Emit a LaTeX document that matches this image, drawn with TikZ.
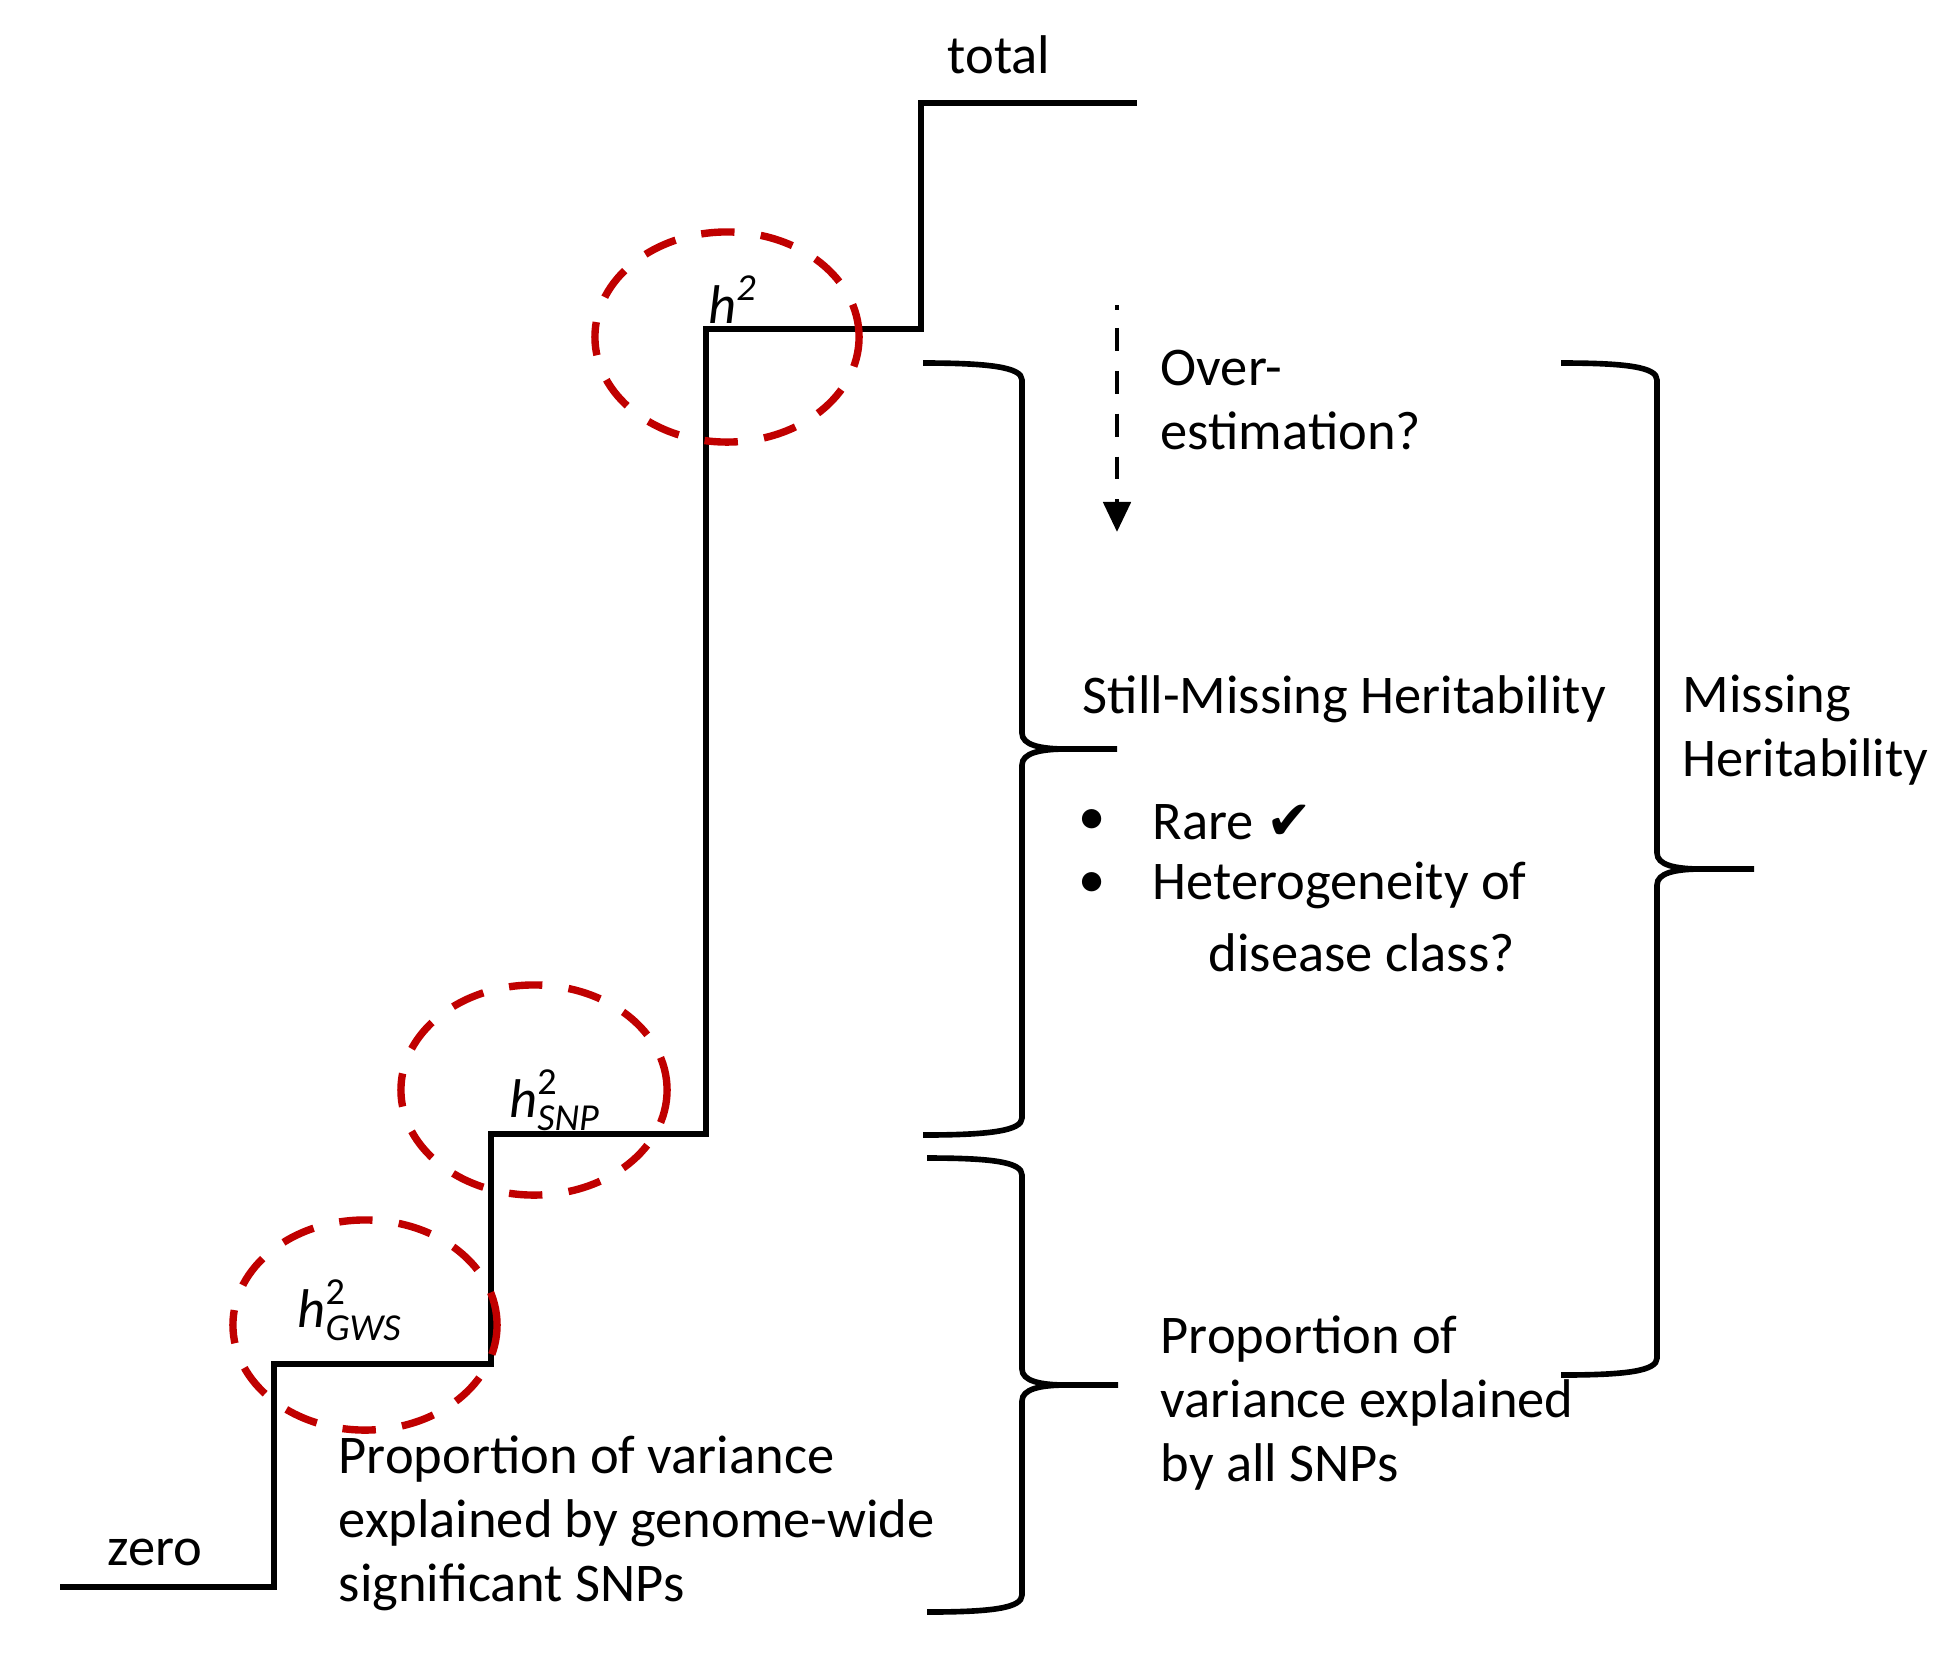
\documentclass[tikz,border=0pt]{standalone}
\usepackage{fontspec}
\usepackage{amsmath}
\setmainfont{Carlito}
\newfontfamily\symfont{DejaVu Sans}
\usetikzlibrary{arrows.meta}

\definecolor{ringred}{RGB}{192,0,0}

% #1 x of the two ends, #2 x of the stem, #3 x of the tip, #4 top y, #5 bottom y
\newcommand{\curlybrace}[5]{%
  \draw[brace] (#1,#4) .. controls ({#1+65},#4) and (#2,{#4+4}) .. (#2,{#4+17})
    -- (#2,{(#4+#5)/2-16}) .. controls (#2,{(#4+#5)/2-4}) and ({#2+18},{(#4+#5)/2}) .. ({#2+45},{(#4+#5)/2})
    -- (#3,{(#4+#5)/2});
  \draw[brace] ({#2+45},{(#4+#5)/2}) .. controls ({#2+18},{(#4+#5)/2}) and (#2,{(#4+#5)/2+4}) .. (#2,{(#4+#5)/2+16})
    -- (#2,{#5-17}) .. controls (#2,{#5-4}) and ({#1+65},#5) .. (#1,#5);
}

\begin{document}
\begin{tikzpicture}[x=0.01cm, y=-0.01cm,
  stair/.style={line width=1.8pt, line join=miter},
  brace/.style={line width=1.6pt},
  ring/.style={draw=ringred, line width=2.1pt, dash pattern=on 9.5pt off 7.5pt},
  overarrow/.style={line width=1.4pt, dash pattern=on 1.5pt off 5pt on 6.5pt off 5.7pt on 6.5pt off 5.7pt on 6.5pt off 5.7pt on 6.5pt off 5.7pt,
    -{Triangle[length=0.3cm, width=0.27cm]}},
  lbl/.style={inner sep=0pt, font=\fontsize{15.5}{18.2}\selectfont},
  blk/.style={lbl, align=left, anchor=west}]

\useasboundingbox (0,0) rectangle (1946,1666);

% staircase
\draw[stair] (60,1587) -| (274,1364) -| (491,1134) -| (706,329) -| (921,103) -- (1137,103);

\node[lbl] (zero) at (155,1552) {zero};
\node[lbl] (total) at (999,55) {total};

% circled steps
\draw[ring] (365,1325) ellipse [x radius=1.32cm, y radius=1.05cm];
\draw[ring] (534,1090) ellipse [x radius=1.33cm, y radius=1.05cm];
\draw[ring] (727,337) ellipse [x radius=1.32cm, y radius=1.05cm];

\node[lbl] (hgws) at (350,1310) {$\textit{h}^{\text{2}}_{\textit{GWS}}$};
\node[lbl] (hsnp) at (555,1100) {$\textit{h}^{\text{2}}_{\textit{SNP}}$};
\node[lbl] (htot) at (733,300) {$\textit{h}^{\textit{2}}$};

\node[blk] (gwsnote) at (338,1523) {Proportion of variance\\explained by genome-wide\\significant SNPs};

% braces
\curlybrace{923}{1022}{1117}{363}{1135}
\curlybrace{927}{1022}{1118}{1158}{1612}
\curlybrace{1561}{1657}{1754}{363}{1375}

% over-estimation arrow
\coordinate (oetop) at (1117,305);
\coordinate (oetip) at (1117,532);
\draw[overarrow] (oetop) -- (oetip);

\node[blk] (overest) at (1160,400) {Over-\\estimation?};
\node[blk] (stillmiss) at (1082,699) {Still-Missing Heritability};
\node[lbl] (bulletA) at (1092,822) {\textbullet};
\node[lbl] (bulletB) at (1092,885) {\textbullet};
\node[lbl, anchor=west] (rare) at (1152,822) {Rare {\symfont ✔}};
\node[lbl, anchor=west] (hetero) at (1152,885) {Heterogeneity of};
\node[lbl, anchor=west] (heterob) at (1208,953) {disease class?};
\node[blk] (allsnp) at (1160,1403) {Proportion of\\variance explained\\by all SNPs};
\node[blk] (missing) at (1682,730) {Missing\\Heritability};

\end{tikzpicture}
\end{document}
